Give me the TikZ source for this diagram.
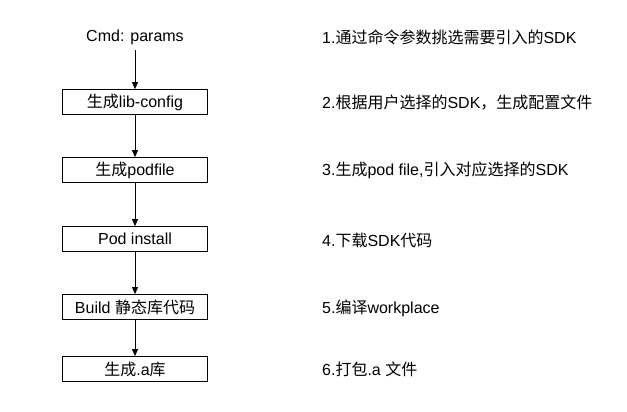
\documentclass[tikz,border=0pt]{standalone}
\usepackage{fontspec}
\setmainfont{Liberation Sans}
\newfontfamily\cjk{Noto Sans CJK SC}
\usepackage{tikz}
\usetikzlibrary{arrows.meta}

\begin{document}
\begin{tikzpicture}[x=1pt,y=-1pt,
    stepbox/.style={draw,line width=0.8pt,minimum width=145pt,minimum height=25pt,inner sep=0pt,font=\fontsize{16}{19}\selectfont},
    note/.style={anchor=west,inner sep=0pt,font=\fontsize{16}{19}\selectfont},
    flow/.style={-{Triangle[length=7pt,width=6pt]},line width=0.8pt}]
    \useasboundingbox (0,0) rectangle (627,412);
    % 左边流程
    \node[stepbox,draw=none] (cmd) at (135,37) {Cmd: params};
    \node[stepbox] (cfg) at (135,102) {{\cjk 生成}lib-config};
    \node[stepbox] (pod) at (135,170) {{\cjk 生成}podfile};
    \node[stepbox] (inst) at (135,239) {Pod install};
    \node[stepbox] (build) at (135,307) {Build {\cjk 静态库代码}};
    \node[stepbox] (lib) at (135,369) {{\cjk 生成}.a{\cjk 库}};
    \draw[flow] (cmd)--(cfg);
    \draw[flow] (cfg)--(pod);
    \draw[flow] (pod)--(inst);
    \draw[flow] (inst)--(build);
    \draw[flow] (build)--(lib);
    % 右边说明
    \node[note] (n1) at (322,37) {1.{\cjk 通过命令参数挑选需要引入的}SDK};
    \node[note] (n2) at (322,103) {2.{\cjk 根据用户选择的}SDK{\cjk ，生成配置文件}};
    \node[note] (n3) at (322,170) {3.{\cjk 生成}pod file,{\cjk 引入对应选择的}SDK};
    \node[note] (n4) at (322,240) {4.{\cjk 下载}SDK{\cjk 代码}};
    \node[note] (n5) at (322,308) {5.{\cjk 编译}workplace};
    \node[note] (n6) at (322,369) {6.{\cjk 打包}.a {\cjk 文件}};
\end{tikzpicture}
\end{document}
